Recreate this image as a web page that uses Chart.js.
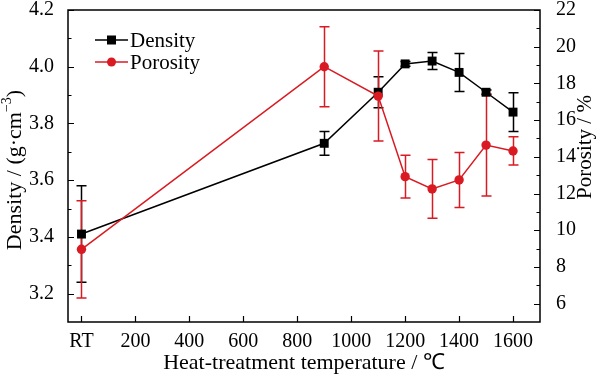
<!DOCTYPE html>
<html>
<head>
<meta charset="utf-8">
<script src="https://cdn.jsdelivr.net/npm/chart.js@4.4.1/dist/chart.umd.min.js"></script>
<style>
  html, body { margin: 0; padding: 0; background: #ffffff; }
  #wrap { position: relative; width: 600px; height: 379px; }
</style>
</head>
<body>
<div id="wrap"><canvas id="c" width="600" height="379"></canvas></div>
<script>
// ---- data ----
const temperatures = [0, 900, 1100, 1200, 1300, 1400, 1500, 1600]; // 0 = RT
const densityValues = [3.41, 3.73, 3.91, 4.01, 4.02, 3.98, 3.91, 3.84];
const densityErrors = [0.17, 0.042, 0.055, 0.008, 0.03, 0.067, 0.008, 0.068];
const porosityValues = [8.96, 18.91, 17.31, 12.92, 12.25, 12.74, 14.64, 14.32];
const porosityErrors = [2.65, 2.18, 2.45, 1.17, 1.6, 1.5, 2.78, 0.77];
const xTickValues = [0, 200, 400, 600, 800, 1000, 1200, 1400, 1600];
const xTickLabels = ['RT', '200', '400', '600', '800', '1000', '1200', '1400', '1600'];
const densityTicks = [3.2, 3.4, 3.6, 3.8, 4.0, 4.2];
const densityMinorTicks = [3.3, 3.5, 3.7, 3.9, 4.1];
const porosityTicks = [6, 8, 10, 12, 14, 16, 18, 20, 22];
const porosityMinorTicks = [7, 9, 11, 13, 15, 17, 19, 21];
const seriesNames = ['Density', 'Porosity'];
const xTitle = 'Heat-treatment temperature / \u2103';
const yLeftTitle = ['Density / (g\u00b7cm', '\u22123', ')'];
const yRightTitle = 'Porosity / %';

const RED = '#da1a22';
const BLACK = '#000000';
const FONT = '"Liberation Serif", "Times New Roman", serif';

const toPts = (vals) => temperatures.map((t, i) => ({ x: t, y: vals[i] }));

const framePlugin = {
  id: 'frame',
  beforeDatasetsDraw(chart) {
    const ctx = chart.ctx;
    const xs = chart.scales.x;
    const sets = [
      { vals: densityValues, errs: densityErrors, scale: chart.scales.y, color: BLACK },
      { vals: porosityValues, errs: porosityErrors, scale: chart.scales.y1, color: RED }
    ];
    ctx.save();
    ctx.lineWidth = 1.5;
    sets.forEach(s => {
      ctx.strokeStyle = s.color;
      temperatures.forEach((t, i) => {
        const px = Math.round(xs.getPixelForValue(t)) + 0.5;
        const top = s.scale.getPixelForValue(s.vals[i] + s.errs[i]);
        const bot = s.scale.getPixelForValue(s.vals[i] - s.errs[i]);
        if (Math.abs(bot - top) < 3) return;
        ctx.beginPath();
        ctx.moveTo(px, top); ctx.lineTo(px, bot);
        ctx.moveTo(px - 5, top); ctx.lineTo(px + 5, top);
        ctx.moveTo(px - 5, bot); ctx.lineTo(px + 5, bot);
        ctx.stroke();
      });
    });
    ctx.restore();
  },
  afterDraw(chart) {
    const ctx = chart.ctx;
    const a = chart.chartArea;
    const xs = chart.scales.x, yl = chart.scales.y, yr = chart.scales.y1;
    ctx.save();
    ctx.strokeStyle = '#000';
    ctx.lineWidth = 1.5;
    ctx.strokeRect(a.left, a.top, a.right - a.left, a.bottom - a.top);
    ctx.lineWidth = 1.2;
    ctx.beginPath();
    xTickValues.forEach(v => {
      const p = Math.round(xs.getPixelForValue(v)) + 0.5;
      ctx.moveTo(p, a.bottom); ctx.lineTo(p, a.bottom - 6);
    });
    densityTicks.forEach(v => {
      const p = Math.round(yl.getPixelForValue(v)) + 0.5;
      ctx.moveTo(a.left, p); ctx.lineTo(a.left + 6, p);
    });
    densityMinorTicks.forEach(v => {
      const p = Math.round(yl.getPixelForValue(v)) + 0.5;
      ctx.moveTo(a.left, p); ctx.lineTo(a.left + 3.5, p);
    });
    porosityTicks.forEach(v => {
      const p = Math.round(yr.getPixelForValue(v)) + 0.5;
      ctx.moveTo(a.right, p); ctx.lineTo(a.right - 6, p);
    });
    porosityMinorTicks.forEach(v => {
      const p = Math.round(yr.getPixelForValue(v)) + 0.5;
      ctx.moveTo(a.right, p); ctx.lineTo(a.right - 3.5, p);
    });
    ctx.stroke();

    // legend
    ctx.font = '21px ' + FONT;
    ctx.textBaseline = 'middle';
    ctx.textAlign = 'left';
    const legend = [
      { name: seriesNames[0], color: BLACK, y: 40, square: true },
      { name: seriesNames[1], color: RED, y: 62, square: false }
    ];
    legend.forEach(l => {
      ctx.strokeStyle = l.color; ctx.fillStyle = l.color; ctx.lineWidth = 1.5;
      ctx.beginPath(); ctx.moveTo(95, l.y); ctx.lineTo(128, l.y); ctx.stroke();
      ctx.beginPath();
      if (l.square) ctx.rect(107, l.y - 4.5, 9, 9); else ctx.arc(111.5, l.y, 4.5, 0, Math.PI * 2);
      ctx.fill();
      ctx.fillStyle = '#000';
      ctx.fillText(l.name, 130, l.y + 1);
    });

    // axis titles
    ctx.fillStyle = '#000';
    ctx.textAlign = 'center';
    ctx.font = '22px ' + FONT;
    ctx.fillText(xTitle, (a.left + a.right) / 2, 363);

    // left title (rotated, with superscript)
    ctx.save();
    ctx.translate(15, 170);
    ctx.rotate(-Math.PI / 2);
    ctx.textAlign = 'left';
    const f1 = '22px ' + FONT, f2 = '14px ' + FONT;
    ctx.font = f1; const w1 = ctx.measureText(yLeftTitle[0]).width;
    const w3 = ctx.measureText(yLeftTitle[2]).width;
    ctx.font = f2; const w2 = ctx.measureText(yLeftTitle[1]).width;
    let sx = -(w1 + w2 + w3) / 2;
    ctx.font = f1; ctx.fillText(yLeftTitle[0], sx, 0); sx += w1;
    ctx.font = f2; ctx.fillText(yLeftTitle[1], sx, -8); sx += w2;
    ctx.font = f1; ctx.fillText(yLeftTitle[2], sx, 0);
    ctx.restore();

    // right title
    ctx.save();
    ctx.translate(585, 147);
    ctx.rotate(-Math.PI / 2);
    ctx.textAlign = 'center';
    ctx.font = '21px ' + FONT;
    ctx.fillText(yRightTitle, 0, 0);
    ctx.restore();
    ctx.restore();
  }
};

new Chart(document.getElementById('c'), {
  type: 'line',
  data: {
    datasets: [
      {
        label: seriesNames[1], data: toPts(porosityValues), yAxisID: 'y1', order: 0,
        borderColor: RED, backgroundColor: RED, borderWidth: 1.5,
        pointStyle: 'circle', pointRadius: 4.7, pointBorderWidth: 0, pointHoverRadius: 4.7,
        tension: 0
      },
      {
        label: seriesNames[0], data: toPts(densityValues), yAxisID: 'y', order: 1,
        borderColor: BLACK, backgroundColor: BLACK, borderWidth: 1.5,
        pointStyle: 'rect', pointRadius: 6.3, pointBorderWidth: 0, pointHoverRadius: 6.3,
        tension: 0
      }
    ]
  },
  options: {
    responsive: false,
    animation: false,
    events: [],
    layout: { padding: 0 },
    plugins: { legend: { display: false }, tooltip: { enabled: false } },
    scales: {
      x: {
        type: 'linear', min: -50, max: 1700,
        afterBuildTicks: (s) => { s.ticks = xTickValues.map(v => ({ value: v })); },
        afterFit: (s) => { s.height = 57; s.paddingLeft = 0; s.paddingRight = 0; },
        grid: { display: false }, border: { display: false },
        ticks: {
          padding: 0, color: '#000', font: { family: FONT, size: 20 }, maxRotation: 0,
          callback: (v) => xTickLabels[xTickValues.indexOf(v)]
        }
      },
      y: {
        position: 'left', min: 3.1, max: 4.2,
        afterBuildTicks: (s) => { s.ticks = densityTicks.map(v => ({ value: v })); },
        afterFit: (s) => { s.width = 68; s.paddingTop = 10; s.paddingBottom = 0; },
        grid: { display: false }, border: { display: false },
        ticks: { padding: 6, color: '#000', font: { family: FONT, size: 20 }, callback: (v) => v.toFixed(1) }
      },
      y1: {
        position: 'right', min: 5, max: 22,
        afterBuildTicks: (s) => { s.ticks = porosityTicks.map(v => ({ value: v })); },
        afterFit: (s) => { s.width = 60; s.paddingTop = 10; s.paddingBottom = 0; },
        grid: { display: false }, border: { display: false },
        ticks: { padding: 8, color: '#000', font: { family: FONT, size: 20 }, callback: (v) => String(v) }
      }
    }
  },
  plugins: [framePlugin]
});
</script>
</body>
</html>
